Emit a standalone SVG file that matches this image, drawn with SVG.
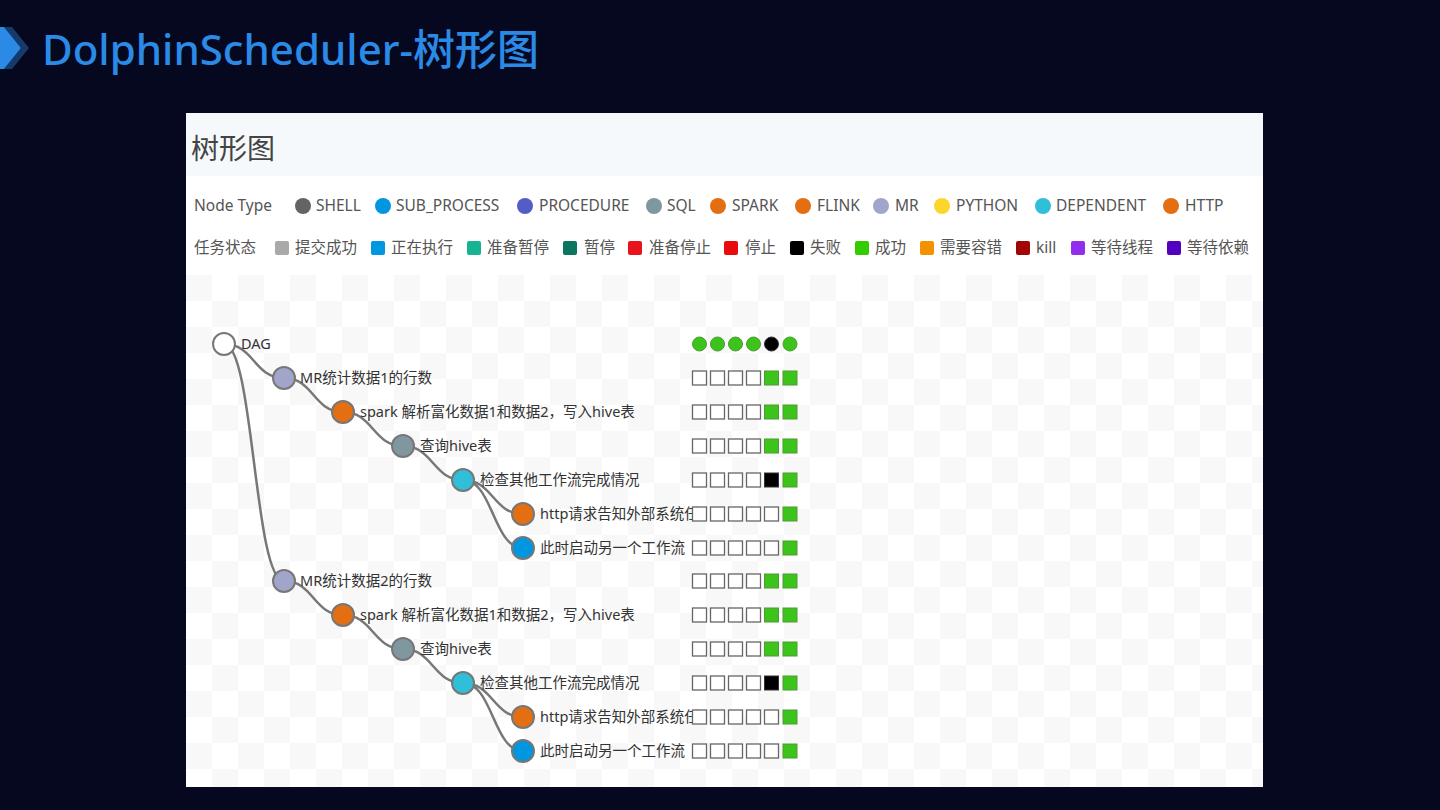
<svg xmlns="http://www.w3.org/2000/svg" width="1440" height="810" viewBox="0 0 1440 810">
<defs>
<pattern id="chk" x="186" y="275" width="52" height="52" patternUnits="userSpaceOnUse">
<rect width="52" height="52" fill="#ffffff"/>
<rect width="26" height="26" fill="#f8f8f8"/>
<rect x="26" y="26" width="26" height="26" fill="#f8f8f8"/>
</pattern>
<style>
.lg{font-family:"Noto Sans","Noto Sans CJK SC",sans-serif;font-size:15.5px;fill:#555}
.lb{font-family:"Noto Sans","Noto Sans CJK SC",sans-serif;font-size:14.5px;fill:#333}
.nd{stroke:#777;stroke-width:2}
.lk{fill:none;stroke:#777;stroke-width:2.5}
.e{fill:#fff;stroke:#666;stroke-width:1.3}
.g{fill:#3cc41c;stroke:#4f9a33;stroke-width:1}
.k{fill:#000;stroke:#333;stroke-width:1}
.gc{fill:#3cc41c;stroke:#4f9a33;stroke-width:1}
.kc{fill:#000;stroke:#333;stroke-width:1}
</style>
</defs>
<rect width="1440" height="810" fill="#05081e"/>
<polygon points="4,27 12,27 29,48 12,69 4,69 21,48" fill="#163a6a"/>
<polygon points="0,27 4,27 21,48 4,69 0,69" fill="#2a8ae6"/>
<text x="42" y="65" font-family="'Noto Sans','Noto Sans CJK SC',sans-serif" font-size="42" font-weight="500" fill="#2a8ae6">DolphinScheduler-树形图</text>

<rect x="186" y="113" width="1077" height="674" fill="#ffffff"/>
<rect x="186" y="113" width="1077" height="63" fill="#f6f9fc"/>
<text x="191" y="159" font-family="'Noto Sans CJK SC',sans-serif" font-size="28" fill="#444">树形图</text>
<rect x="186" y="275" width="1077" height="512" fill="url(#chk)"/>

<g id="legend-type">
<text class="lg" x="194" y="211">Node Type</text>
<circle cx="303" cy="206" r="8" fill="#646464"/><text class="lg" x="316" y="211">SHELL</text>
<circle cx="383" cy="206" r="8" fill="#0097e0"/><text class="lg" x="396" y="211">SUB_PROCESS</text>
<circle cx="525" cy="206" r="8" fill="#545cc6"/><text class="lg" x="539" y="211">PROCEDURE</text>
<circle cx="654" cy="206" r="8" fill="#8097a0"/><text class="lg" x="667" y="211">SQL</text>
<circle cx="718" cy="206" r="8" fill="#e46f13"/><text class="lg" x="732" y="211">SPARK</text>
<circle cx="803" cy="206" r="8" fill="#e46f13"/><text class="lg" x="817" y="211">FLINK</text>
<circle cx="881" cy="206" r="8" fill="#a1a5c9"/><text class="lg" x="895" y="211">MR</text>
<circle cx="942" cy="206" r="8" fill="#fed52d"/><text class="lg" x="956" y="211">PYTHON</text>
<circle cx="1043" cy="206" r="8" fill="#2fbfd8"/><text class="lg" x="1056" y="211">DEPENDENT</text>
<circle cx="1171" cy="206" r="8" fill="#e46f13"/><text class="lg" x="1185" y="211">HTTP</text>
</g>
<g id="legend-state">
<text class="lg" x="194" y="253">任务状态</text>
<rect x="275" y="241" width="14" height="14" rx="2" fill="#a9a9a9"/><text class="lg" x="295" y="253">提交成功</text>
<rect x="371" y="241" width="14" height="14" rx="2" fill="#0097e0"/><text class="lg" x="391" y="253">正在执行</text>
<rect x="467" y="241" width="14" height="14" rx="2" fill="#17b393"/><text class="lg" x="487" y="253">准备暂停</text>
<rect x="563" y="241" width="14" height="14" rx="2" fill="#0b7560"/><text class="lg" x="584" y="253">暂停</text>
<rect x="628" y="241" width="14" height="14" rx="2" fill="#e8141b"/><text class="lg" x="649" y="253">准备停止</text>
<rect x="724" y="241" width="14" height="14" rx="2" fill="#e80c0c"/><text class="lg" x="745" y="253">停止</text>
<rect x="790" y="241" width="14" height="14" rx="2" fill="#000000"/><text class="lg" x="810" y="253">失败</text>
<rect x="855" y="241" width="14" height="14" rx="2" fill="#33cc00"/><text class="lg" x="875" y="253">成功</text>
<rect x="920" y="241" width="14" height="14" rx="2" fill="#f39200"/><text class="lg" x="940" y="253">需要容错</text>
<rect x="1016" y="241" width="14" height="14" rx="2" fill="#a10505"/><text class="lg" x="1036" y="253">kill</text>
<rect x="1071" y="241" width="14" height="14" rx="2" fill="#912eed"/><text class="lg" x="1091" y="253">等待线程</text>
<rect x="1167" y="241" width="14" height="14" rx="2" fill="#5101be"/><text class="lg" x="1187" y="253">等待依赖</text>
</g>

<g id="connectors">
<path class="lk" d="M224,344 C254,344 254,378 284,378"/>
<path class="lk" d="M284,378 C313.5,378 313.5,412 343,412"/>
<path class="lk" d="M343,412 C373,412 373,446 403,446"/>
<path class="lk" d="M403,446 C433,446 433,480 463,480"/>
<path class="lk" d="M463,480 C493,480 493,514 523,514"/>
<path class="lk" d="M463,480 C493,480 493,548 523,548"/>
<path class="lk" d="M224,344 C254,344 254,581 284,581"/>
<path class="lk" d="M284,581 C313.5,581 313.5,615 343,615"/>
<path class="lk" d="M343,615 C373,615 373,649 403,649"/>
<path class="lk" d="M403,649 C433,649 433,683 463,683"/>
<path class="lk" d="M463,683 C493,683 493,717 523,717"/>
<path class="lk" d="M463,683 C493,683 493,751 523,751"/>
</g>

<g id="n0">
<circle class="nd" cx="224" cy="344" r="11" fill="#ffffff"/>
<text class="lb" x="241" y="349">DAG</text>
<circle class="gc" cx="699.5" cy="344" r="7"/><circle class="gc" cx="717.5" cy="344" r="7"/><circle class="gc" cx="735.5" cy="344" r="7"/><circle class="gc" cx="753.5" cy="344" r="7"/><circle class="kc" cx="771.5" cy="344" r="7"/><circle class="gc" cx="790" cy="344" r="7"/>
</g>
<g id="n1">
<circle class="nd" cx="284" cy="378" r="11" fill="#a1a5c9"/>
<text class="lb" x="300" y="383">MR统计数据1的行数</text>
<rect class="e" x="692.5" y="371" width="14" height="14"/><rect class="e" x="710.5" y="371" width="14" height="14"/><rect class="e" x="728.5" y="371" width="14" height="14"/><rect class="e" x="746.5" y="371" width="14" height="14"/><rect class="g" x="764.5" y="371" width="14" height="14"/><rect class="g" x="783" y="371" width="14" height="14"/>
</g>
<g id="n2">
<circle class="nd" cx="343" cy="412" r="11" fill="#e46f13"/>
<text class="lb" x="360" y="417">spark 解析富化数据1和数据2，写入hive表</text>
<rect class="e" x="692.5" y="405" width="14" height="14"/><rect class="e" x="710.5" y="405" width="14" height="14"/><rect class="e" x="728.5" y="405" width="14" height="14"/><rect class="e" x="746.5" y="405" width="14" height="14"/><rect class="g" x="764.5" y="405" width="14" height="14"/><rect class="g" x="783" y="405" width="14" height="14"/>
</g>
<g id="n3">
<circle class="nd" cx="403" cy="446" r="11" fill="#8097a0"/>
<text class="lb" x="420" y="451">查询hive表</text>
<rect class="e" x="692.5" y="439" width="14" height="14"/><rect class="e" x="710.5" y="439" width="14" height="14"/><rect class="e" x="728.5" y="439" width="14" height="14"/><rect class="e" x="746.5" y="439" width="14" height="14"/><rect class="g" x="764.5" y="439" width="14" height="14"/><rect class="g" x="783" y="439" width="14" height="14"/>
</g>
<g id="n4">
<circle class="nd" cx="463" cy="480" r="11" fill="#2fbfd8"/>
<text class="lb" x="480" y="485">检查其他工作流完成情况</text>
<rect class="e" x="692.5" y="473" width="14" height="14"/><rect class="e" x="710.5" y="473" width="14" height="14"/><rect class="e" x="728.5" y="473" width="14" height="14"/><rect class="e" x="746.5" y="473" width="14" height="14"/><rect class="k" x="764.5" y="473" width="14" height="14"/><rect class="g" x="783" y="473" width="14" height="14"/>
</g>
<g id="n5">
<circle class="nd" cx="523" cy="514" r="11" fill="#e46f13"/>
<text class="lb" x="540" y="519">http请求告知外部系统任</text>
<rect class="e" x="692.5" y="507" width="14" height="14"/><rect class="e" x="710.5" y="507" width="14" height="14"/><rect class="e" x="728.5" y="507" width="14" height="14"/><rect class="e" x="746.5" y="507" width="14" height="14"/><rect class="e" x="764.5" y="507" width="14" height="14"/><rect class="g" x="783" y="507" width="14" height="14"/>
</g>
<g id="n6">
<circle class="nd" cx="523" cy="548" r="11" fill="#0097e0"/>
<text class="lb" x="540" y="553">此时启动另一个工作流</text>
<rect class="e" x="692.5" y="541" width="14" height="14"/><rect class="e" x="710.5" y="541" width="14" height="14"/><rect class="e" x="728.5" y="541" width="14" height="14"/><rect class="e" x="746.5" y="541" width="14" height="14"/><rect class="e" x="764.5" y="541" width="14" height="14"/><rect class="g" x="783" y="541" width="14" height="14"/>
</g>
<g id="n7">
<circle class="nd" cx="284" cy="581" r="11" fill="#a1a5c9"/>
<text class="lb" x="300" y="586">MR统计数据2的行数</text>
<rect class="e" x="692.5" y="574" width="14" height="14"/><rect class="e" x="710.5" y="574" width="14" height="14"/><rect class="e" x="728.5" y="574" width="14" height="14"/><rect class="e" x="746.5" y="574" width="14" height="14"/><rect class="g" x="764.5" y="574" width="14" height="14"/><rect class="g" x="783" y="574" width="14" height="14"/>
</g>
<g id="n8">
<circle class="nd" cx="343" cy="615" r="11" fill="#e46f13"/>
<text class="lb" x="360" y="620">spark 解析富化数据1和数据2，写入hive表</text>
<rect class="e" x="692.5" y="608" width="14" height="14"/><rect class="e" x="710.5" y="608" width="14" height="14"/><rect class="e" x="728.5" y="608" width="14" height="14"/><rect class="e" x="746.5" y="608" width="14" height="14"/><rect class="g" x="764.5" y="608" width="14" height="14"/><rect class="g" x="783" y="608" width="14" height="14"/>
</g>
<g id="n9">
<circle class="nd" cx="403" cy="649" r="11" fill="#8097a0"/>
<text class="lb" x="420" y="654">查询hive表</text>
<rect class="e" x="692.5" y="642" width="14" height="14"/><rect class="e" x="710.5" y="642" width="14" height="14"/><rect class="e" x="728.5" y="642" width="14" height="14"/><rect class="e" x="746.5" y="642" width="14" height="14"/><rect class="g" x="764.5" y="642" width="14" height="14"/><rect class="g" x="783" y="642" width="14" height="14"/>
</g>
<g id="n10">
<circle class="nd" cx="463" cy="683" r="11" fill="#2fbfd8"/>
<text class="lb" x="480" y="688">检查其他工作流完成情况</text>
<rect class="e" x="692.5" y="676" width="14" height="14"/><rect class="e" x="710.5" y="676" width="14" height="14"/><rect class="e" x="728.5" y="676" width="14" height="14"/><rect class="e" x="746.5" y="676" width="14" height="14"/><rect class="k" x="764.5" y="676" width="14" height="14"/><rect class="g" x="783" y="676" width="14" height="14"/>
</g>
<g id="n11">
<circle class="nd" cx="523" cy="717" r="11" fill="#e46f13"/>
<text class="lb" x="540" y="722">http请求告知外部系统任</text>
<rect class="e" x="692.5" y="710" width="14" height="14"/><rect class="e" x="710.5" y="710" width="14" height="14"/><rect class="e" x="728.5" y="710" width="14" height="14"/><rect class="e" x="746.5" y="710" width="14" height="14"/><rect class="e" x="764.5" y="710" width="14" height="14"/><rect class="g" x="783" y="710" width="14" height="14"/>
</g>
<g id="n12">
<circle class="nd" cx="523" cy="751" r="11" fill="#0097e0"/>
<text class="lb" x="540" y="756">此时启动另一个工作流</text>
<rect class="e" x="692.5" y="744" width="14" height="14"/><rect class="e" x="710.5" y="744" width="14" height="14"/><rect class="e" x="728.5" y="744" width="14" height="14"/><rect class="e" x="746.5" y="744" width="14" height="14"/><rect class="e" x="764.5" y="744" width="14" height="14"/><rect class="g" x="783" y="744" width="14" height="14"/>
</g>
</svg>
